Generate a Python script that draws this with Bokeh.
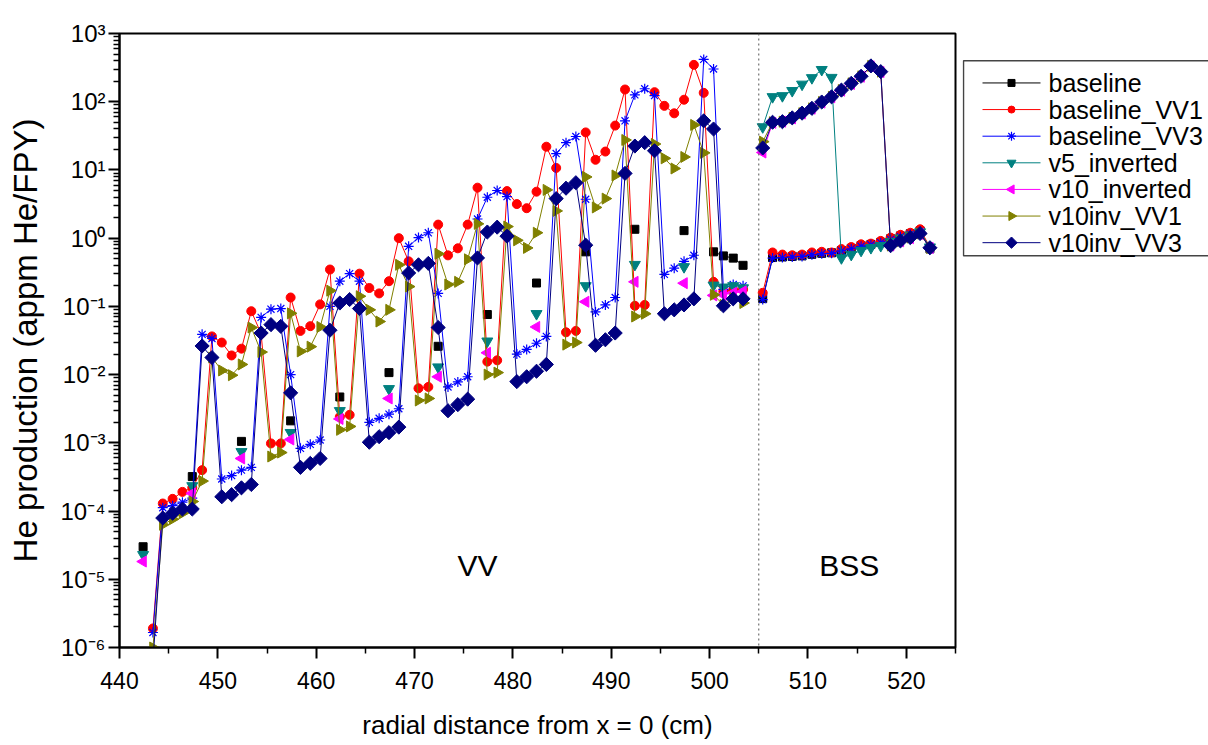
import math
from bokeh.plotting import figure
from bokeh.layouts import row
from bokeh.models import Range1d, FixedTicker, Span, Label
from bokeh.core.properties import value
from bokeh.embed import file_html
from bokeh.resources import INLINE

# ---------------- data ----------------
# fine VV mesh (cm)
fine_x = [443.4, 444.4, 445.4, 446.4, 447.4, 448.4, 449.4, 450.4, 451.4, 452.4,
          453.4, 454.4, 455.4, 456.4, 457.4, 458.4, 459.4, 460.4, 461.4, 462.4,
          463.4, 464.4, 465.4, 466.4, 467.4, 468.4, 469.4, 470.4, 471.4, 472.4,
          473.4, 474.4, 475.4, 476.4, 477.4, 478.4, 479.4, 480.4, 481.4, 482.4,
          483.4, 484.4, 485.4, 486.4, 487.4, 488.4, 489.4, 490.4, 491.4, 492.4,
          493.4, 494.4, 495.4, 496.4, 497.4, 498.4, 499.4, 500.4, 501.4, 502.4, 503.4]
# coarse VV points (baseline, v5_inverted, v10_inverted)
coarse_x = [442.4, 447.4, 452.4, 457.4, 462.4, 467.4, 472.4, 477.4, 482.4, 487.4, 492.4, 497.4]
edge_x = [500.4, 501.4, 502.4, 503.4]
# BSS mesh
bss_x = [505.4, 506.4, 507.4, 508.4, 509.4, 510.4, 511.4, 512.4, 513.4,
         514.4, 515.4, 516.4, 517.4, 518.4, 519.4, 520.4, 521.4, 522.4]

baseline_coarse = [3.0e-5, 3.2e-4, 1.05e-3, 2.1e-3, 4.7e-3, 1.07e-2, 2.6e-2, 7.6e-2, 0.22, 0.63, 1.35, 1.29]
baseline_edge = [0.63, 0.55, 0.51, 0.40]
baseline_bss = [0.13, 0.52, 0.53, 0.54, 0.55, 0.58, 0.60, 0.61, 0.66, 0.71, 0.78, 0.81, 0.87, 0.98, 1.08, 1.16, 1.28, 0.70]

vv1_fine = [1.9e-6, 1.29e-4, 1.51e-4, 1.91e-4, 2.19e-4, 3.98e-4, 3.63e-2, 2.95e-2, 1.91e-2, 2.40e-2,
            8.5e-2, 3.98e-2, 9.8e-4, 9.8e-4, 0.135, 4.37e-2, 5.13e-2, 0.107, 0.347, 2.4e-3,
            2.57e-3, 0.302, 0.186, 0.155, 0.234, 1.0, 0.457, 6.3e-3, 6.6e-3, 1.58,
            0.56, 0.71, 1.58, 5.5, 1.55e-2, 1.62e-2, 4.9, 3.16, 2.75, 4.8,
            21.9, 10.7, 4.17e-2, 4.37e-2, 35.5, 14.1, 18.6, 44.7, 151, 0.102,
            0.105, 138, 87, 67.6, 107, 347, 135, 0.229, 0.166, 0.174, 0.178]
vv1_bss = [0.158, 0.617, 0.575, 0.562, 0.575, 0.617, 0.631, 0.617, 0.692, 0.741, 0.813, 0.832, 0.912, 1.02, 1.12, 1.20, 1.35, 0.741]

vv3_fine = [1.66e-6, 1.12e-4, 1.20e-4, 1.35e-4, 1.55e-4, 3.89e-2, 3.39e-2, 2.95e-4, 3.31e-4, 3.98e-4,
            4.37e-4, 6.9e-2, 9.1e-2, 9.3e-2, 1.0e-2, 8.3e-4, 9.5e-4, 1.10e-3, 0.10, 0.234,
            0.302, 0.234, 2.0e-3, 2.29e-3, 2.63e-3, 3.16e-3, 0.76, 1.02, 1.20, 0.155,
            6.6e-3, 7.8e-3, 9.3e-3, 1.91, 3.98, 5.0, 4.07, 2.0e-2, 2.34e-2, 2.88e-2,
            3.63e-2, 17.4, 25.1, 30.9, 3.72, 8.3e-2, 0.105, 0.135, 52.5, 126,
            155, 123, 0.295, 0.363, 0.457, 0.562, 417, 302, 0.178, 0.209, 0.20]
vv3_bss = [0.126, 0.51, 0.52, 0.53, 0.54, 0.57, 0.59, 0.60, 0.65, 0.70, 0.76, 0.80, 0.86, 0.96, 1.05, 1.14, 1.25, 0.68]

v5_coarse = [2.29e-5, 2.34e-4, 7.4e-4, 1.41e-3, 2.95e-3, 6.2e-3, 1.29e-2, 3.09e-2, 7.8e-2, 0.20, 0.41, 0.38]
v5_edge = [0.204, 0.191, 0.20, 0.186]
v5_bss = [42.7, 118, 122, 145, 180, 224, 295, 226, 0.513, 0.575, 0.66, 0.724, 0.776, 0.89, 1.0, 1.10, 1.23, 0.74]

v10_coarse = [1.82e-5, 1.82e-4, 5.9e-4, 1.12e-3, 2.24e-3, 4.47e-3, 9.3e-3, 2.09e-2, 5.0e-2, 0.117, 0.229, 0.219]
v10_edge = [0.145, 0.148, 0.158, 0.166]
v10_bss = [18.0, 49, 51, 57, 67, 79, 97, 116, 145, 182, 232, 330, 272, 0.78, 0.90, 1.0, 1.15, 0.72]

inv1_fine = [1.0e-6, 6.3e-5, 7.6e-5, 9.3e-5, 1.38e-4, 2.75e-4, 1.78e-2, 1.15e-2, 9.8e-3, 1.41e-2,
             4.9e-2, 2.14e-2, 6.3e-4, 7.2e-4, 7.9e-2, 2.19e-2, 2.57e-2, 5.0e-2, 0.17, 1.55e-3,
             1.74e-3, 0.141, 8.9e-2, 6.0e-2, 8.9e-2, 0.407, 0.195, 4.17e-3, 4.47e-3, 0.589,
             0.209, 0.229, 0.49, 1.62, 1.0e-2, 1.07e-2, 1.48, 0.93, 0.72, 1.20,
             5.1, 2.51, 2.75e-2, 2.95e-2, 7.9, 2.82, 3.8, 8.3, 27.5, 7.1e-2,
             7.8e-2, 24.0, 14.8, 10.5, 15.5, 45.7, 17.8, 0.148, 0.105, 0.132, 0.112]
inv1_bss = [26.0, 50, 51, 58, 68, 80, 99, 118, 148, 186, 236, 335, 276, 0.78, 0.91, 1.02, 1.17, 0.72]

inv3_fine = [6.3e-7, 7.9e-5, 9.3e-5, 1.07e-4, 1.07e-4, 2.63e-2, 1.78e-2, 1.62e-4, 1.74e-4, 2.19e-4,
             2.45e-4, 4.07e-2, 5.4e-2, 5.1e-2, 5.4e-3, 4.37e-4, 5.0e-4, 5.9e-4, 4.47e-2, 0.112,
             0.126, 9.3e-2, 1.02e-3, 1.23e-3, 1.41e-3, 1.70e-3, 0.309, 0.407, 0.427, 4.9e-2,
             2.95e-3, 3.63e-3, 4.37e-3, 0.513, 1.23, 1.45, 1.07, 7.9e-3, 9.3e-3, 1.12e-2,
             1.41e-2, 3.8, 5.4, 6.5, 0.79, 2.69e-2, 3.24e-2, 4.07e-2, 8.9, 22.4,
             25.1, 19.1, 7.8e-2, 8.9e-2, 0.105, 0.129, 52.5, 39.8, 0.102, 0.129, 0.129]
inv3_bss = [21.0, 50, 51, 58, 68, 80, 99, 118, 148, 186, 236, 335, 276, 0.776, 0.912, 1.02, 1.17, 0.724]

names = ["baseline", "baseline_VV1", "baseline_VV3", "v5_inverted", "v10_inverted", "v10inv_VV1", "v10inv_VV3"]
colors = ["#000000", "#FF0000", "#0000FF", "#008080", "#FF00FF", "#808000", "#000080"]

y_ticks = [1e-6, 1e-5, 1e-4, 1e-3, 1e-2, 1e-1, 1e0, 1e1, 1e2, 1e3]
y_tick_labels = ["10\u207b\u2076", "10\u207b\u2075", "10\u207b\u2074", "10\u207b\u00b3", "10\u207b\u00b2",
                 "10\u207b\u00b9", "10\u2070", "10\u00b9", "10\u00b2", "10\u00b3"]
x_ticks = [440, 450, 460, 470, 480, 490, 500, 510, 520]

FONT = "Liberation Sans"
NAN = float("nan")

# marker styles per series: (marker, angle, size)
styles = [("square", 0.0, 8), ("circle", 0.0, 9), ("asterisk", 0.0, 10),
          ("inverted_triangle", 0.0, 11), ("triangle", math.pi / 2, 11),
          ("triangle", -math.pi / 2, 11), ("square", math.pi / 4, 10)]


def join(*parts):
    out = []
    for i, part in enumerate(parts):
        if i:
            out.append(NAN)
        out.extend(part)
    return out


p = figure(width=962, height=745, x_range=Range1d(440, 525), y_range=Range1d(1e-6, 1e3),
           y_axis_type="log", output_backend="svg", toolbar_location=None,
           min_border_left=119, min_border_right=7, min_border_top=33, min_border_bottom=98)
p.xgrid.visible = False
p.ygrid.visible = False
p.outline_line_color = "black"
p.outline_line_width = 2
p.background_fill_color = "white"
p.border_fill_color = "white"

# axes
p.xaxis.ticker = FixedTicker(ticks=x_ticks, minor_ticks=[t + 5 for t in x_ticks])
p.yaxis.ticker = FixedTicker(ticks=y_ticks,
                             minor_ticks=[m * d for d in y_ticks[:-1] for m in range(2, 10)])
p.yaxis.major_label_overrides = {t: s for t, s in zip(y_ticks, y_tick_labels)}
for ax in (p.xaxis, p.yaxis):
    ax.axis_line_width = 2
    ax.major_tick_line_width = 2
    ax.minor_tick_line_width = 1.5
    ax.major_tick_out = 11
    ax.major_tick_in = 0
    ax.minor_tick_out = 6
    ax.minor_tick_in = 0
    ax.major_label_text_font = FONT
    ax.axis_label_text_font = FONT
    ax.axis_label_text_font_style = "normal"
    ax.major_label_text_color = "black"
    ax.axis_label_text_color = "black"
p.xaxis.major_label_text_font_size = "23px"
p.yaxis.major_label_text_font_size = "24px"
p.xaxis.major_label_standoff = 13
p.yaxis.major_label_standoff = 3
p.xaxis.axis_label = "radial distance from x = 0 (cm)"
p.yaxis.axis_label = "He production (appm He/FPY)"
p.xaxis.axis_label_text_font_size = "26px"
p.yaxis.axis_label_text_font_size = "33px"
p.xaxis.axis_label_standoff = 18
p.yaxis.axis_label_standoff = 13

# VV / BSS boundary
p.add_layout(Span(location=505, dimension="height", line_color="#555555",
                  line_dash="2 3", line_width=1))


def draw(fig, i, line_x, line_y, pts_x, pts_y):
    c = colors[i]
    marker, ang, size = styles[i]
    fig.line(line_x, line_y, line_color=c, line_width=1)
    if marker == "asterisk":
        fig.scatter(pts_x, pts_y, marker=marker, size=size, line_color=c, line_width=1.2)
    else:
        fig.scatter(pts_x, pts_y, marker=marker, angle=ang, size=size, fill_color=c, line_color=c)


draw(p, 0, join(edge_x, bss_x), join(baseline_edge, baseline_bss),
     coarse_x + edge_x + bss_x, baseline_coarse + baseline_edge + baseline_bss)
draw(p, 1, join(fine_x, bss_x), join(vv1_fine, vv1_bss), fine_x + bss_x, vv1_fine + vv1_bss)
draw(p, 2, join(fine_x, bss_x), join(vv3_fine, vv3_bss), fine_x + bss_x, vv3_fine + vv3_bss)
draw(p, 3, join(edge_x, bss_x), join(v5_edge, v5_bss),
     coarse_x + edge_x + bss_x, v5_coarse + v5_edge + v5_bss)
draw(p, 4, join(edge_x, bss_x), join(v10_edge, v10_bss),
     coarse_x + edge_x + bss_x, v10_coarse + v10_edge + v10_bss)
draw(p, 5, join(fine_x, bss_x), join(inv1_fine, inv1_bss), fine_x + bss_x, inv1_fine + inv1_bss)
draw(p, 6, join(fine_x, bss_x), join(inv3_fine, inv3_bss), fine_x + bss_x, inv3_fine + inv3_bss)

# region labels
p.add_layout(Label(x=476.4, y=1.6e-5, text="VV", text_align="center", text_baseline="middle",
                   text_font=FONT, text_font_size="30px", text_color="black"))
p.add_layout(Label(x=514.2, y=1.6e-5, text="BSS", text_align="center", text_baseline="middle",
                   text_font=FONT, text_font_size="30px", text_color="black"))

# ---------------- legend panel (drawn so the rotated markers show correctly) ----------------
LW = 246
lg = figure(width=LW, height=745, x_range=Range1d(0, LW), y_range=Range1d(745, 0),
            output_backend="svg", toolbar_location=None, x_axis_location=None, y_axis_location=None,
            min_border=0, min_border_left=0, min_border_right=0, min_border_top=0, min_border_bottom=0)
lg.xgrid.visible = False
lg.ygrid.visible = False
lg.outline_line_color = None
lg.background_fill_color = "white"
lg.border_fill_color = "white"

box_top, row_h, first_row = 33, 32.3, 60
box_bottom = first_row + row_h * (len(names) - 1) + 16
lg.quad(left=[1], right=[LW + 10], top=[box_top], bottom=[box_bottom],
        fill_color="white", line_color="#444444", line_width=1.5)
for i, name in enumerate(names):
    yc = first_row + row_h * i
    c = colors[i]
    marker, ang, size = styles[i]
    lg.line([20, 78], [yc, yc], line_color=c, line_width=1)
    if marker == "asterisk":
        lg.scatter([49], [yc], marker=marker, size=9, line_color=c, line_width=1.2)
    else:
        lg.scatter([49], [yc], marker=marker, angle=ang, size=max(size - 2, 7),
                   fill_color=c, line_color=c)
    lg.text([86], [yc], text=[name], text_font=value(FONT), text_font_size="25px",
            text_baseline="middle", text_align="left", text_color="black")

layout = row(p, lg, spacing=0)
open("out.html", "w").write(file_html(layout, INLINE))
